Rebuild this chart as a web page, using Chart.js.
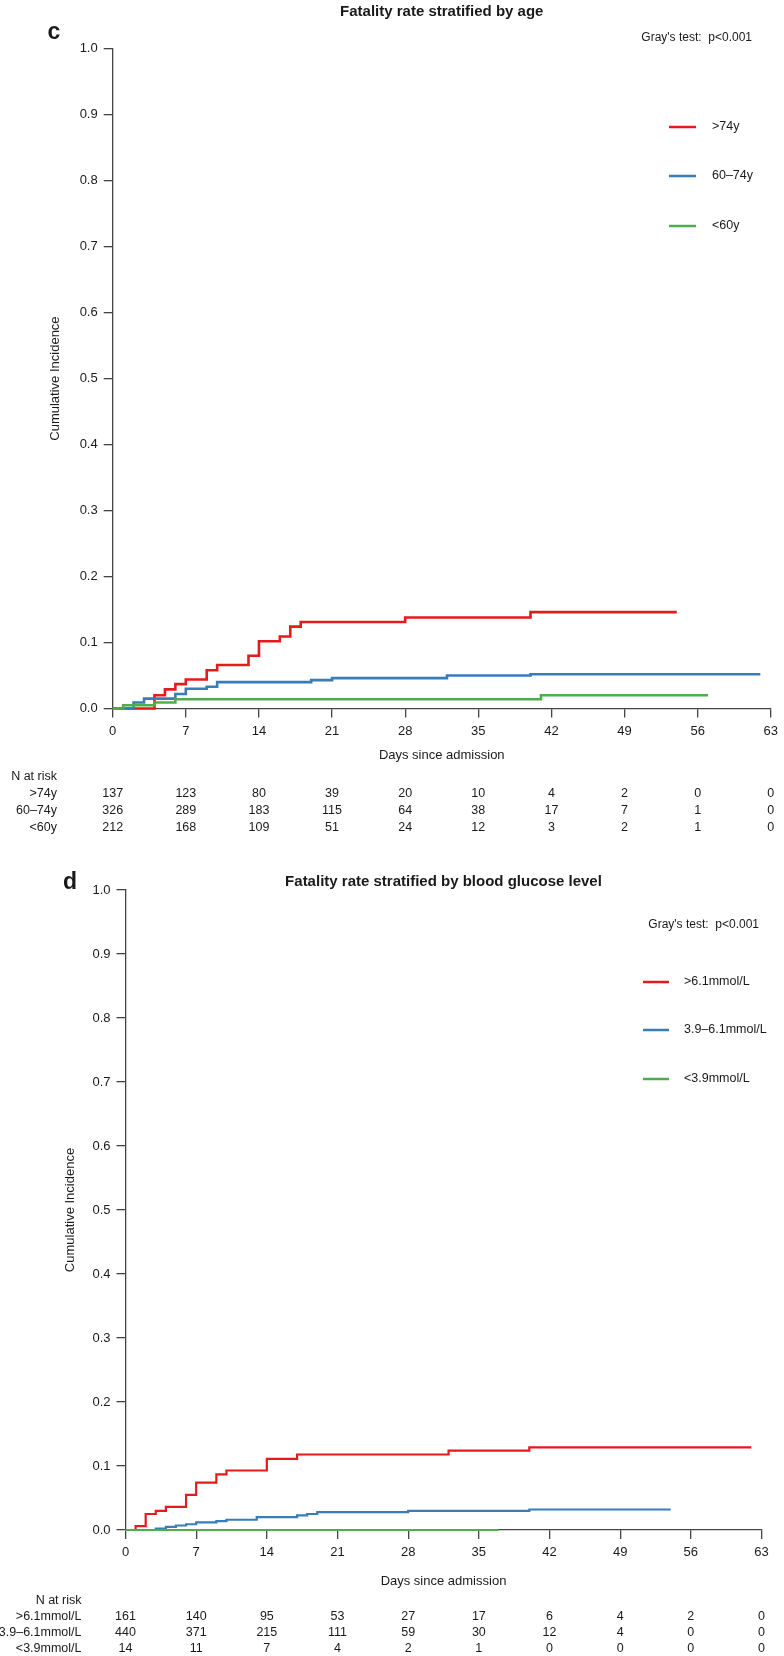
<!DOCTYPE html>
<html>
<head>
<meta charset="utf-8">
<script src="https://cdn.jsdelivr.net/npm/chart.js@4.4.1/dist/chart.umd.min.js"></script>
<style>
  body { margin: 0; background: #fff; }
  #wrap { position: relative; width: 784px; height: 1656px; }
  canvas { position: absolute; left: 0; }
  #ageChart { top: 0; }
  #gluChart { top: 840px; }
</style>
</head>
<body>
<div id="wrap">
  <canvas id="ageChart" width="784" height="840"></canvas>
  <canvas id="gluChart" width="784" height="816"></canvas>
</div>
<script>
// time points for the x axis and the risk table
const dayTicks = [0, 7, 14, 21, 28, 35, 42, 49, 56, 63];
const incTicks = [0, 0.1, 0.2, 0.3, 0.4, 0.5, 0.6, 0.7, 0.8, 0.9, 1.0];

// panel c : age groups
const ageLabels = ['>74y', '60–74y', '<60y'];
const ageOldDays = [0, 4, 5, 6, 7, 9, 10, 13, 14, 16, 17, 18, 28, 40, 54];
const ageOldCI = [0, 0.020, 0.029, 0.037, 0.044, 0.058, 0.066, 0.080, 0.102, 0.109, 0.124, 0.131, 0.138, 0.146, 0.146];
const ageMidDays = [0, 2, 3, 6, 7, 9, 10, 19, 21, 32, 40, 62];
const ageMidCI = [0, 0.009, 0.015, 0.022, 0.030, 0.033, 0.040, 0.043, 0.046, 0.050, 0.052, 0.052];
const ageYoungDays = [0, 1, 4, 6, 41, 57];
const ageYoungCI = [0, 0.005, 0.009, 0.014, 0.020, 0.020];
const ageRiskOld = [137, 123, 80, 39, 20, 10, 4, 2, 0, 0];
const ageRiskMid = [326, 289, 183, 115, 64, 38, 17, 7, 1, 0];
const ageRiskYoung = [212, 168, 109, 51, 24, 12, 3, 2, 1, 0];

// panel d : blood glucose
const gluLabels = ['>6.1mmol/L', '3.9–6.1mmol/L', '<3.9mmol/L'];
const gluHighDays = [0, 1, 2, 3, 4, 6, 7, 9, 10, 14, 17, 32, 40, 62];
const gluHighCI = [0, 0.006, 0.025, 0.030, 0.036, 0.055, 0.074, 0.087, 0.093, 0.111, 0.118, 0.124, 0.129, 0.129];
const gluNormDays = [0, 3, 4, 5, 6, 7, 9, 10, 13, 17, 18, 19, 28, 40, 54];
const gluNormCI = [0, 0.002, 0.005, 0.007, 0.009, 0.012, 0.014, 0.016, 0.020, 0.023, 0.025, 0.028, 0.030, 0.032, 0.032];
const gluLowDays = [0, 37];
const gluLowCI = [0, 0];
const gluRiskHigh = [161, 140, 95, 53, 27, 17, 6, 4, 2, 0];
const gluRiskNorm = [440, 371, 215, 111, 59, 30, 12, 4, 0, 0];
const gluRiskLow = [14, 11, 7, 4, 2, 1, 0, 0, 0, 0];

const colors = ['#E41A1C', '#377EB8', '#4DAF4A'];
const FONT = '"Liberation Sans", Arial, sans-serif';
const TXT = '#1a1a1a';
const AXIS = '#444';

function steps(days, ci) {
  return days.map((d, i) => ({ x: d, y: ci[i] }));
}

// texts around the plot: title, letter, legend, risk table
function panelText(cfg) {
  return {
    id: 'panelText',
    afterDraw(chart) {
      const ctx = chart.ctx;
      const area = chart.chartArea;
      const xs = chart.scales.x;
      const midX = (area.left + area.right) / 2;
      ctx.save();
      ctx.fillStyle = TXT;
      ctx.textBaseline = 'middle';

      ctx.font = 'bold 15px ' + FONT;
      ctx.textAlign = 'center';
      ctx.fillText(cfg.title, midX, cfg.titleY);

      ctx.font = 'bold 23px ' + FONT;
      ctx.fillText(cfg.letter, cfg.letterX, cfg.letterY);

      ctx.font = '12px ' + FONT;
      ctx.textAlign = 'right';
      ctx.fillText("Gray's test:  p<0.001", cfg.grayRight, cfg.grayY);

      // legend
      ctx.textAlign = 'left';
      ctx.font = '12.5px ' + FONT;
      cfg.labels.forEach((lab, i) => {
        const y = cfg.legendY[i];
        ctx.strokeStyle = colors[i];
        ctx.lineWidth = 2.5;
        ctx.beginPath();
        ctx.moveTo(cfg.legendX[0], y);
        ctx.lineTo(cfg.legendX[1], y);
        ctx.stroke();
        ctx.fillText(lab, cfg.legendTextX, y);
      });

      // axis titles
      ctx.font = '13px ' + FONT;
      ctx.textAlign = 'center';
      ctx.fillText('Days since admission', midX, area.bottom + cfg.xTitleOff);
      ctx.save();
      ctx.translate(cfg.yTitleX, (area.top + area.bottom) / 2);
      ctx.rotate(-Math.PI / 2);
      ctx.fillText('Cumulative Incidence', 0, 0);
      ctx.restore();

      // number at risk
      ctx.font = '12.5px ' + FONT;
      ctx.textAlign = 'right';
      ctx.fillText('N at risk', cfg.labelRight, cfg.riskY[0]);
      cfg.risk.forEach((row, r) => {
        const y = cfg.riskY[r + 1];
        ctx.textAlign = 'right';
        ctx.fillText(cfg.labels[r], cfg.labelRight, y);
        ctx.textAlign = 'center';
        row.forEach((n, i) => ctx.fillText(String(n), xs.getPixelForValue(dayTicks[i]), y));
      });
      ctx.restore();
    }
  };
}

function makePanel(id, series, cfg) {
  const datasets = series.map((s, i) => ({
    data: steps(s[0], s[1]),
    borderColor: colors[i],
    borderWidth: cfg.lineWidth,
    stepped: 'before',
    pointRadius: 0,
    fill: false,
    clip: false,
    order: 3 - i,
  }));
  return new Chart(document.getElementById(id), {
    type: 'line',
    data: { datasets: datasets },
    options: {
      responsive: false,
      animation: false,
      devicePixelRatio: 1,
      layout: { padding: { top: cfg.top, right: cfg.right, left: 0, bottom: 0 } },
      plugins: { legend: { display: false }, tooltip: { enabled: false } },
      scales: {
        x: {
          type: 'linear', min: 0, max: 63,
          afterBuildTicks: s => { s.ticks = dayTicks.map(v => ({ value: v })); },
          afterFit: s => { s.height = cfg.xHeight; },
          grid: { drawOnChartArea: false, drawTicks: true, tickLength: 9, color: AXIS, lineWidth: 1.3 },
          border: { display: true, color: AXIS, width: 1.3 },
          ticks: { font: { family: FONT, size: 13 }, color: TXT, padding: 6, maxRotation: 0, autoSkip: false }
        },
        y: {
          type: 'linear', min: 0, max: 1,
          afterBuildTicks: s => { s.ticks = incTicks.map(v => ({ value: v })); },
          afterFit: s => { s.width = cfg.left; },
          grid: { drawOnChartArea: false, drawTicks: true, tickLength: 9, color: AXIS, lineWidth: 1.3 },
          border: { display: true, color: AXIS, width: 1.3 },
          ticks: { font: { family: FONT, size: 13 }, color: TXT, padding: 6, callback: v => v.toFixed(1) }
        }
      }
    },
    plugins: [panelText(cfg)]
  });
}

makePanel('ageChart',
  [[ageOldDays, ageOldCI], [ageMidDays, ageMidCI], [ageYoungDays, ageYoungCI]],
  {
    top: 48.6, right: 10.5, left: 112.7, xHeight: 131.5, lineWidth: 2.6,
    title: 'Fatality rate stratified by age', titleY: 12,
    letter: 'c', letterX: 54, letterY: 33,
    grayRight: 752, grayY: 38,
    labels: ageLabels, legendX: [669, 696], legendTextX: 712, legendY: [127, 176, 226],
    xTitleOff: 47, yTitleX: 55,
    labelRight: 57, riskY: [777, 794, 811, 828],
    risk: [ageRiskOld, ageRiskMid, ageRiskYoung]
  });

makePanel('gluChart',
  [[gluHighDays, gluHighCI], [gluNormDays, gluNormCI], [gluLowDays, gluLowCI]],
  {
    top: 50, right: 22.5, left: 125.5, xHeight: 126, lineWidth: 2.2,
    title: 'Fatality rate stratified by blood glucose level', titleY: 42,
    letter: 'd', letterX: 70, letterY: 43,
    grayRight: 759, grayY: 85,
    labels: gluLabels, legendX: [643, 669], legendTextX: 684, legendY: [142, 190, 239],
    xTitleOff: 51, yTitleX: 70,
    labelRight: 81.5, riskY: [761, 777, 793, 809],
    risk: [gluRiskHigh, gluRiskNorm, gluRiskLow]
  });
</script>
</body>
</html>
